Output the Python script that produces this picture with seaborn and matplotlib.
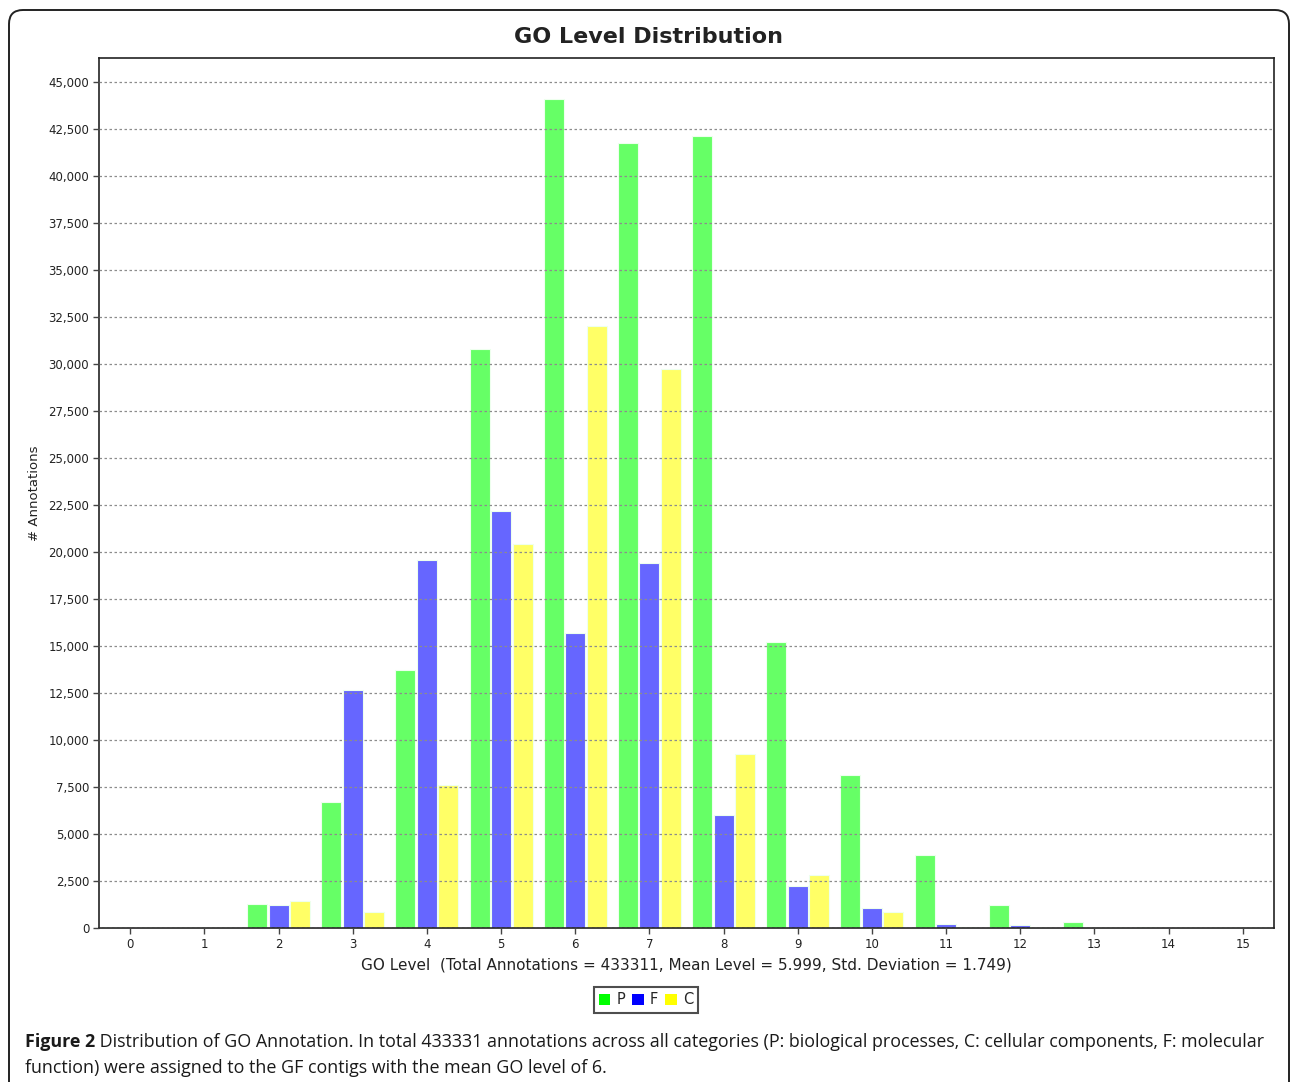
import numpy as np
import pandas as pd
import matplotlib
matplotlib.use("Agg")
import matplotlib.pyplot as plt
import matplotlib.patches as mpatches
from matplotlib.transforms import IdentityTransform
from matplotlib.ticker import FuncFormatter, MultipleLocator
import seaborn as sns

# GO levels and annotation counts per category
levels = [str(i) for i in range(16)]
p_counts = [0, 0, 1290, 6690, 13750, 30790, 44100, 41740, 42140, 15230, 8150, 3880, 1220, 300, 70, 0]
f_counts = [0, 0, 1200, 12680, 19570, 22180, 15690, 19410, 5990, 2230, 1060, 200, 160, 0, 0, 0]
c_counts = [0, 0, 1410, 830, 7590, 20430, 32020, 29750, 9260, 2800, 870, 70, 0, 0, 0, 0]
categories = ["P", "F", "C"]
bar_colors = ["#66ff66", "#6666ff", "#ffff66"]
legend_colors = ["#00ff00", "#0000ff", "#ffff00"]

title = "GO Level Distribution"
xlabel = "GO Level  (Total Annotations = 433311, Mean Level = 5.999, Std. Deviation = 1.749)"
ylabel = "# Annotations"
caption_bold = "Figure 2"
caption_line1 = (" Distribution of GO Annotation. In total 433331 annotations across all categories "
                 "(P: biological processes, C: cellular components, F: molecular")
caption_line2 = "function) were assigned to the GF contigs with the mean GO level of 6."

# long table for seaborn
df = pd.DataFrame({
    "level": levels * 3,
    "count": p_counts + f_counts + c_counts,
    "cat": ["P"] * 16 + ["F"] * 16 + ["C"] * 16,
})

sns.set_style("white")
plt.rcParams['font.family'] = ['DejaVu Sans']

fig = plt.figure(figsize=(12.9, 10.82), dpi=100)
W, H = 1290, 1082
ax = fig.add_axes([99 / W, 1 - 928 / H, (1274 - 99) / W, (928 - 58) / H])

sns.barplot(data=df, x="level", y="count", hue="cat", order=levels, hue_order=categories,
            palette=bar_colors, saturation=1, width=0.87, gap=0.07,
            edgecolor="#eeffee", linewidth=0.8, legend=False, ax=ax)

ax.set_xlim(-0.42, 15.42)
ax.set_ylim(0, 46280)
ax.yaxis.set_major_locator(MultipleLocator(2500))
ax.yaxis.set_major_formatter(FuncFormatter(lambda v, _: f"{int(v):,}"))
ax.yaxis.grid(True, linestyle=(0, (2, 2)), color="#8c8c8c", linewidth=0.9)
ax.xaxis.grid(False)
ax.set_axisbelow(False)

for s in ax.spines.values():
    s.set_visible(True)
    s.set_color("#222222")
    s.set_linewidth(1.2)

ax.tick_params(axis="both", which="major", direction="out", length=4, width=1,
               color="#444444", labelsize=8.5, labelcolor="#222222", left=True, bottom=True, pad=3)
for lab in ax.get_xticklabels() + ax.get_yticklabels():
    lab.set_family("DejaVu Sans")

ax.set_xlabel(xlabel, fontsize=11, family="DejaVu Sans", color="#222222", labelpad=5)
ax.set_ylabel(ylabel, fontsize=9.5, family="DejaVu Sans", color="#222222", labelpad=5)
fig.text(648 / W, 1 - 37 / H, title, ha="center", va="center", fontsize=16,
         fontweight="bold", family="DejaVu Sans", color="#222222")

# legend below the axes
handles = [mpatches.Patch(facecolor=c, edgecolor="none", label=l)
           for c, l in zip(legend_colors, categories)]
leg = fig.legend(handles=handles, loc="center", bbox_to_anchor=(646 / W, 1 - 1000 / H),
                 ncol=3, prop={"family": "DejaVu Sans", "size": 10.5}, frameon=True,
                 fancybox=False, handlelength=0.8, handleheight=0.8, handletextpad=0.4,
                 columnspacing=0.5, borderpad=0.35, borderaxespad=0)
leg.get_frame().set_edgecolor("#222222")
leg.get_frame().set_linewidth(1.5)

# outer rounded frame
frame = mpatches.FancyBboxPatch((9, -30), 1280, 1072 + 30, boxstyle="round,pad=0,rounding_size=14",
                                transform=IdentityTransform(), facecolor="none",
                                edgecolor="#222222", linewidth=1.4)
fig.patches.append(frame)

# caption
cap_font = ["Open Sans", "DejaVu Sans"]
cap_size = 12.9
fig.canvas.draw()
renderer = fig.canvas.get_renderer()
tb = fig.text(25 / W, 1 - 1042 / H, caption_bold, ha="left", va="center", fontsize=cap_size,
              fontweight="bold", family=cap_font, color="#1a1a1a")
bw = tb.get_window_extent(renderer).width
fig.text((25 + bw) / W, 1 - 1042 / H, caption_line1, ha="left", va="center", fontsize=cap_size,
         family=cap_font, color="#1a1a1a")
fig.text(25 / W, 1 - 1068 / H, caption_line2, ha="left", va="center", fontsize=cap_size,
         family=cap_font, color="#1a1a1a")

fig.savefig("out.png", dpi=100)
